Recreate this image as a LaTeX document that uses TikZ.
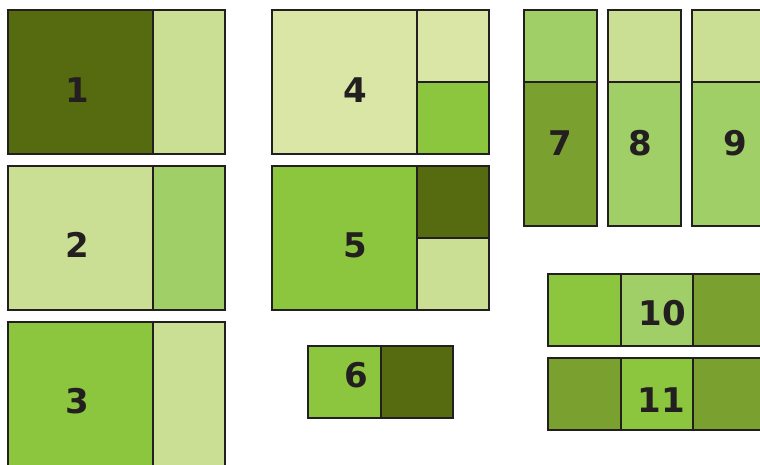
\documentclass[tikz,border=0pt]{standalone}
\usepackage{fontspec}
\setmainfont{DejaVu Sans}
\definecolor{cdark}{HTML}{566A0F}
\definecolor{clight}{HTML}{CADF93}
\definecolor{cpale}{HTML}{DAE6A6}
\definecolor{cbright}{HTML}{8CC63F}
\definecolor{cmed}{HTML}{A0CE67}
\definecolor{colive}{HTML}{7AA02F}
\definecolor{cink}{HTML}{231F20}
\begin{document}
\begin{tikzpicture}[x=1pt,y=-1pt,
  cell/.style={draw=cink,line width=1.1pt},
  num/.style={font=\fontsize{34}{34}\selectfont\bfseries,text=cink,inner sep=0pt}]
\useasboundingbox (0,0) rectangle (760,464);
\begin{scope}
\clip (0,0) rectangle (760,464);
% 1
\fill[cdark] (8,10) rectangle (153,154);
\fill[clight] (153,10) rectangle (225,154);
\draw[cell] (8,10) rectangle (225,154) (153,10) -- (153,154);
% 2
\fill[clight] (8,166) rectangle (153,310);
\fill[cmed] (153,166) rectangle (225,310);
\draw[cell] (8,166) rectangle (225,310) (153,166) -- (153,310);
% 3
\fill[cbright] (8,322) rectangle (153,470);
\fill[clight] (153,322) rectangle (225,470);
\draw[cell] (8,470) -- (8,322) -- (225,322) -- (225,470) (153,322) -- (153,470);
% 4
\fill[cpale] (272,10) rectangle (417,154);
\fill[cpale] (417,10) rectangle (489,82);
\fill[cbright] (417,82) rectangle (489,154);
\draw[cell] (272,10) rectangle (489,154) (417,10) -- (417,154) (417,82) -- (489,82);
% 5
\fill[cbright] (272,166) rectangle (417,310);
\fill[cdark] (417,166) rectangle (489,238);
\fill[clight] (417,238) rectangle (489,310);
\draw[cell] (272,166) rectangle (489,310) (417,166) -- (417,310) (417,238) -- (489,238);
% 6
\fill[cbright] (308,346) rectangle (381,418);
\fill[cdark] (381,346) rectangle (453,418);
\draw[cell] (308,346) rectangle (453,418) (381,346) -- (381,418);
% 7
\fill[cmed] (524,10) rectangle (597,82);
\fill[colive] (524,82) rectangle (597,226);
\draw[cell] (524,10) rectangle (597,226) (524,82) -- (597,82);
% 8
\fill[clight] (608,10) rectangle (681,82);
\fill[cmed] (608,82) rectangle (681,226);
\draw[cell] (608,10) rectangle (681,226) (608,82) -- (681,82);
% 9
\fill[clight] (692,10) rectangle (765,82);
\fill[cmed] (692,82) rectangle (765,226);
\draw[cell] (692,10) rectangle (765,226) (692,82) -- (765,82);
% 10
\fill[cbright] (548,274) rectangle (621,346);
\fill[cmed] (621,274) rectangle (693,346);
\fill[colive] (693,274) rectangle (766,346);
\draw[cell] (548,274) rectangle (766,346) (621,274) -- (621,346) (693,274) -- (693,346);
% 11
\fill[colive] (548,358) rectangle (621,430);
\fill[cbright] (621,358) rectangle (693,430);
\fill[colive] (693,358) rectangle (766,430);
\draw[cell] (548,358) rectangle (766,430) (621,358) -- (621,430) (693,358) -- (693,430);
\end{scope}
\node[num] (n1) at (77,90) {1};
\node[num] (n2) at (77,245) {2};
\node[num] (n3) at (77,401) {3};
\node[num] (n4) at (355,90) {4};
\node[num] (n5) at (355,245) {5};
\node[num] (n6) at (356,375) {6};
\node[num] (n7) at (560,143) {7};
\node[num] (n8) at (640,143) {8};
\node[num] (n9) at (735,143) {9};
\node[num] (n10) at (662,313) {10};
\node[num] (n11) at (661,400) {11};
\end{tikzpicture}
\end{document}
